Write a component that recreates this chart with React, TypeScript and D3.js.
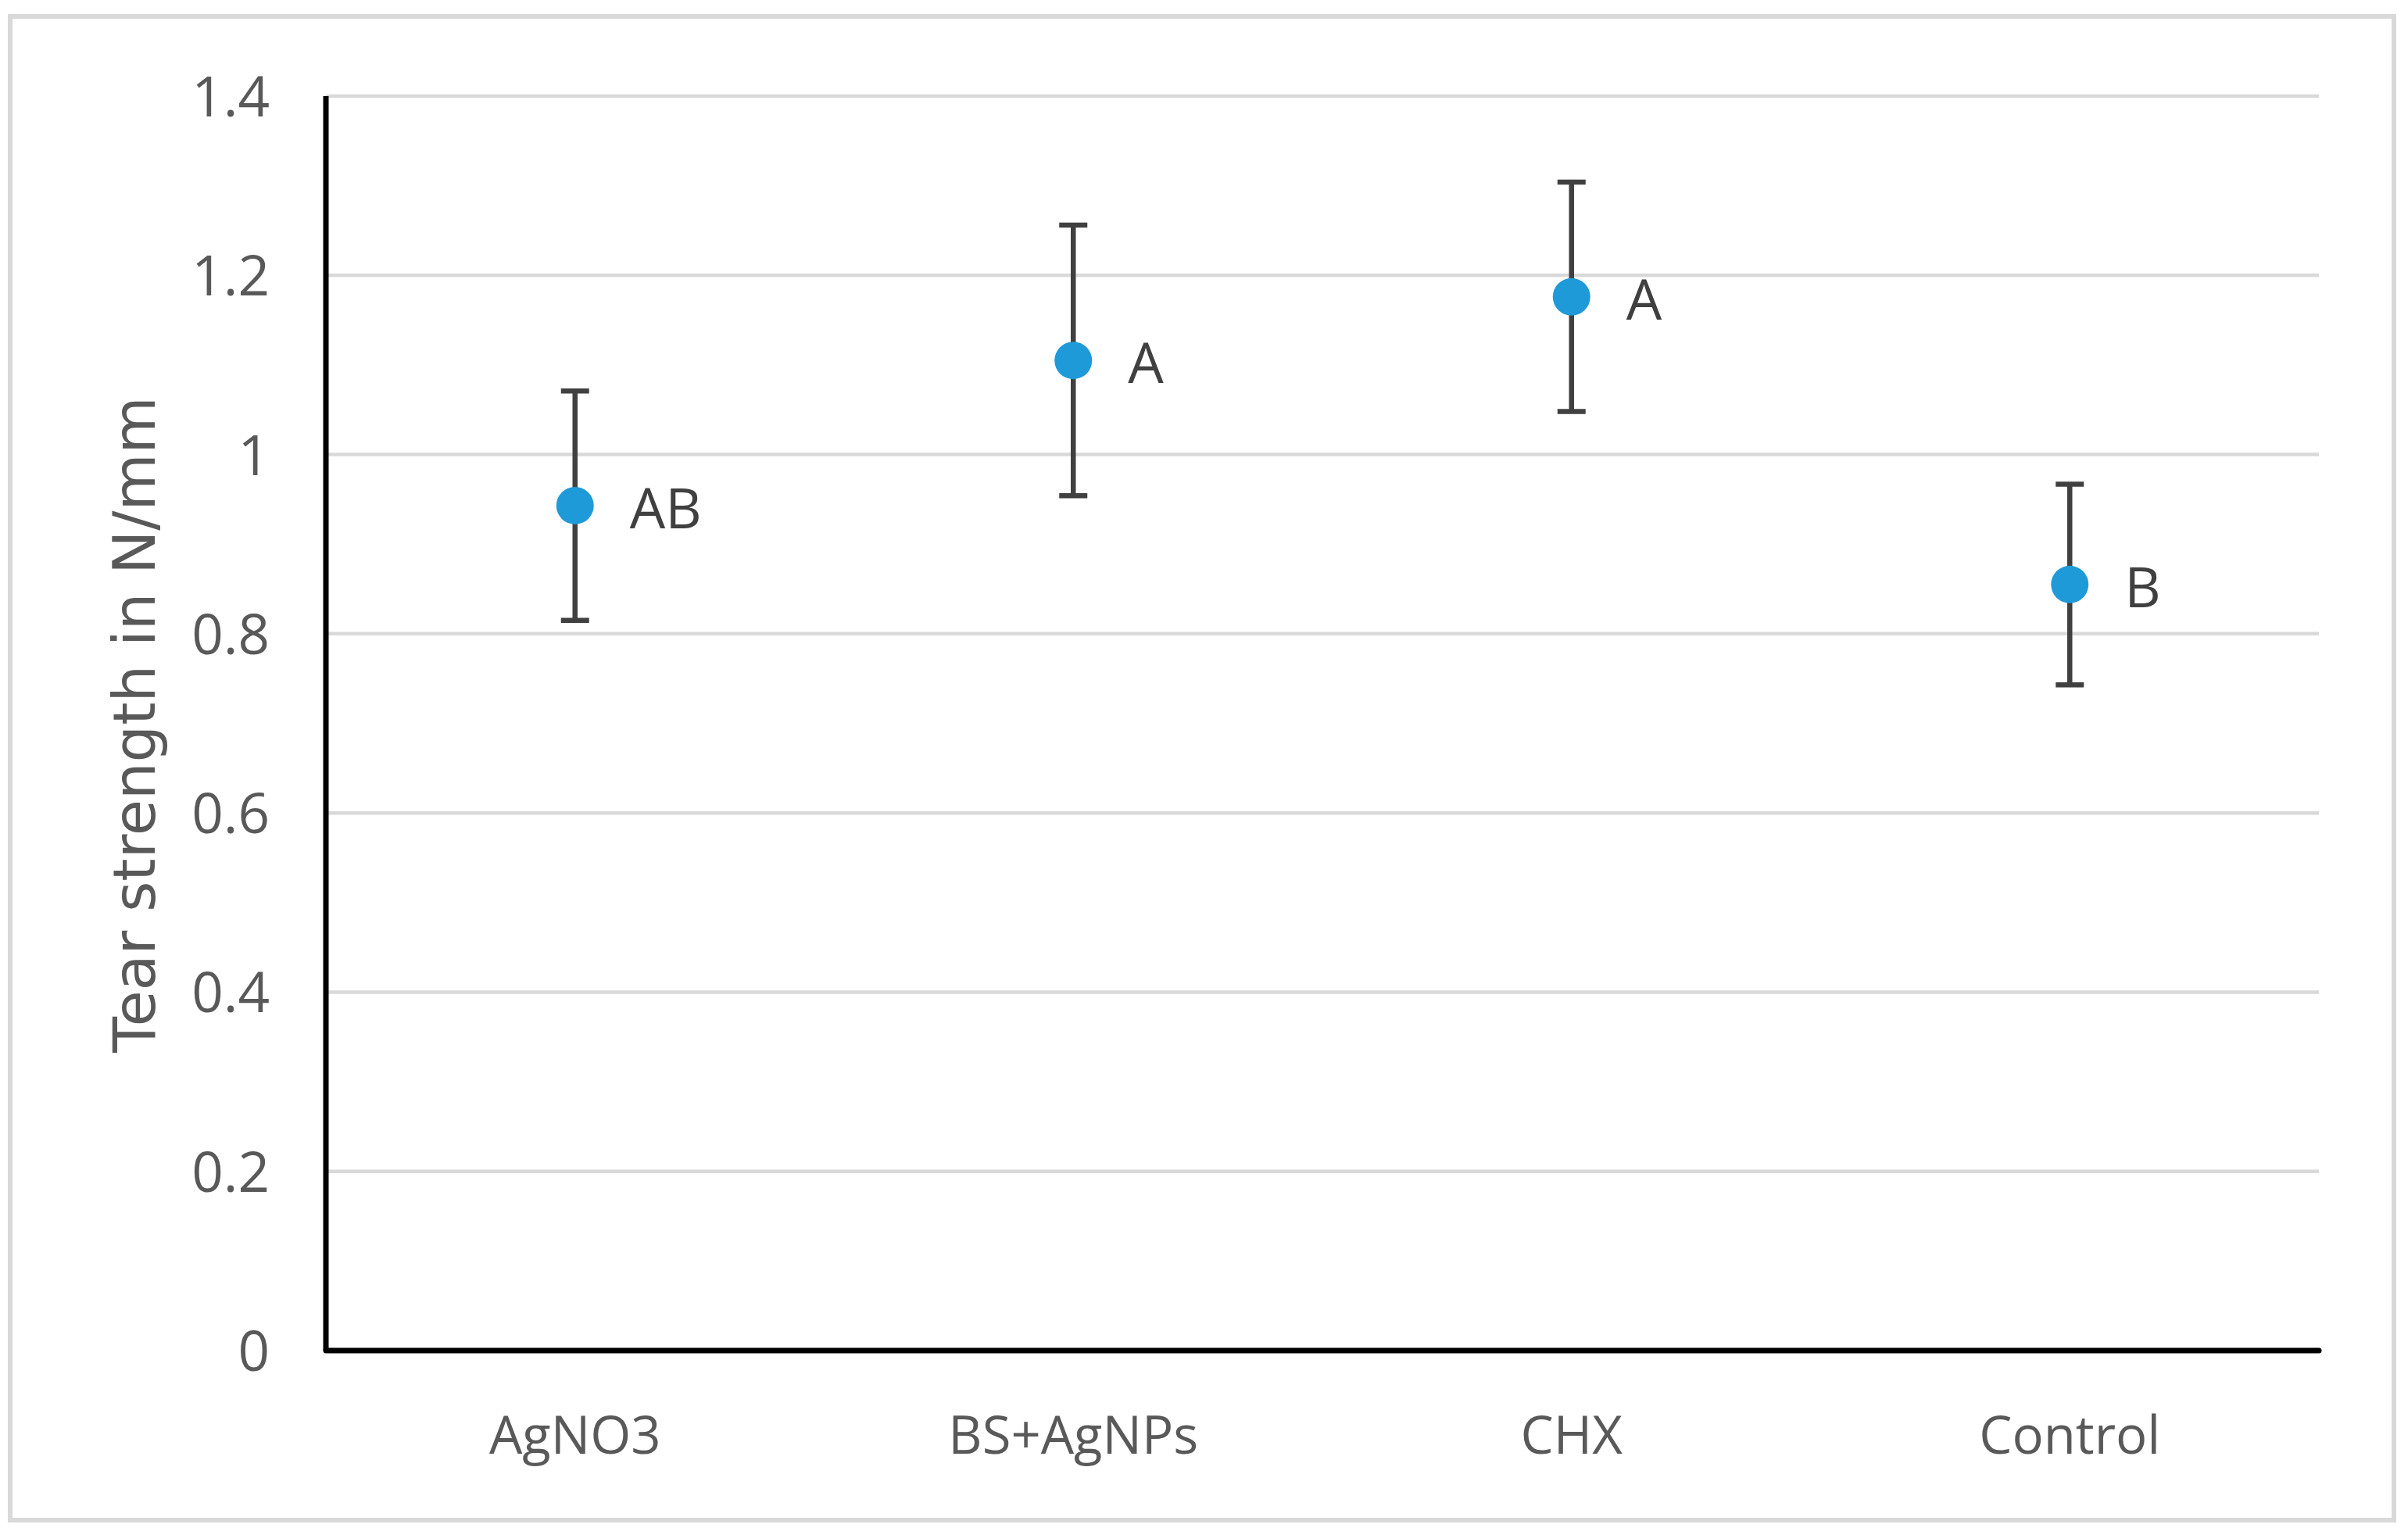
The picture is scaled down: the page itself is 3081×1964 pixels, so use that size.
import React from "react";
import * as d3 from "d3";

// Tear strength (N/mm) per treatment
const categories = ["AgNO3", "BS+AgNPs", "CHX", "Control"];
const means = [0.943, 1.105, 1.176, 0.855];
const errors = [0.128, 0.151, 0.128, 0.112];
const letters = ["AB", "A", "A", "B"];
const yTicks = [0, 0.2, 0.4, 0.6, 0.8, 1, 1.2, 1.4];

const W = 3081;
const H = 1964;
const plot = { left: 417, right: 2967, top: 123, bottom: 1728 };

const tickFont = "'Liberation Sans Narrow', 'Open Sans', sans-serif";

export default function App() {
  const x = d3
    .scalePoint<string>()
    .domain(categories)
    .range([plot.left, plot.right])
    .padding(0.5);

  const y = d3.scaleLinear().domain([0, 1.4]).range([plot.bottom, plot.top]);

  const capHalf = 18;

  return (
    <svg
      width={W}
      height={H}
      style={{ position: "absolute", top: 0, left: 0, background: "#fff" }}
    >
      {/* outer chart border */}
      <rect x={13} y={21} width={3050} height={1924} fill="#fff" stroke="#d9d9d9" strokeWidth={6} />

      {/* gridlines */}
      {yTicks
        .filter((t) => t > 0)
        .map((t) => (
          <line
            key={"g" + t}
            x1={plot.left}
            x2={plot.right}
            y1={y(t)}
            y2={y(t)}
            stroke="#d9d9d9"
            strokeWidth={4.5}
          />
        ))}

      {/* y tick labels */}
      {yTicks.map((t) => (
        <text
          key={"t" + t}
          x={345}
          y={y(t) + 26}
          textAnchor="end"
          fontFamily={tickFont}
          fontSize={71}
          fill="#595959"
        >
          {d3.format("~g")(t)}
        </text>
      ))}

      {/* axes */}
      <line x1={plot.left} x2={plot.left} y1={plot.top} y2={plot.bottom} stroke="#000" strokeWidth={7} />
      <line x1={plot.left} x2={plot.right} y1={plot.bottom} y2={plot.bottom} stroke="#000" strokeWidth={7} strokeLinecap="round" />

      {/* category labels */}
      {categories.map((c) => (
        <text
          key={"c" + c}
          x={x(c)}
          y={1860}
          textAnchor="middle"
          fontFamily={tickFont}
          fontSize={67}
          fill="#595959"
        >
          {c}
        </text>
      ))}

      {/* error bars, points and letters */}
      {categories.map((c, i) => {
        const cx = x(c) as number;
        const hi = y(means[i] + errors[i]);
        const lo = y(means[i] - errors[i]);
        const cy = y(means[i]);
        return (
          <g key={"p" + c}>
            <line x1={cx} x2={cx} y1={hi} y2={lo} stroke="#404040" strokeWidth={6.5} />
            <line x1={cx - capHalf} x2={cx + capHalf} y1={hi} y2={hi} stroke="#404040" strokeWidth={6.5} />
            <line x1={cx - capHalf} x2={cx + capHalf} y1={lo} y2={lo} stroke="#404040" strokeWidth={6.5} />
            <circle cx={cx} cy={cy} r={24} fill="#1f9ad8" />
            <text
              x={cx + 70}
              y={cy + 29}
              fontFamily={tickFont}
              fontSize={72}
              fill="#404040"
            >
              {letters[i]}
            </text>
          </g>
        );
      })}

      {/* y axis title */}
      <text
        transform="translate(198,927) rotate(-90)"
        textAnchor="middle"
        fontFamily="'DejaVu Sans', Verdana, sans-serif"
        fontSize={75}
        fill="#595959"
      >
        Tear strength in N/mm
      </text>
    </svg>
  );
}
